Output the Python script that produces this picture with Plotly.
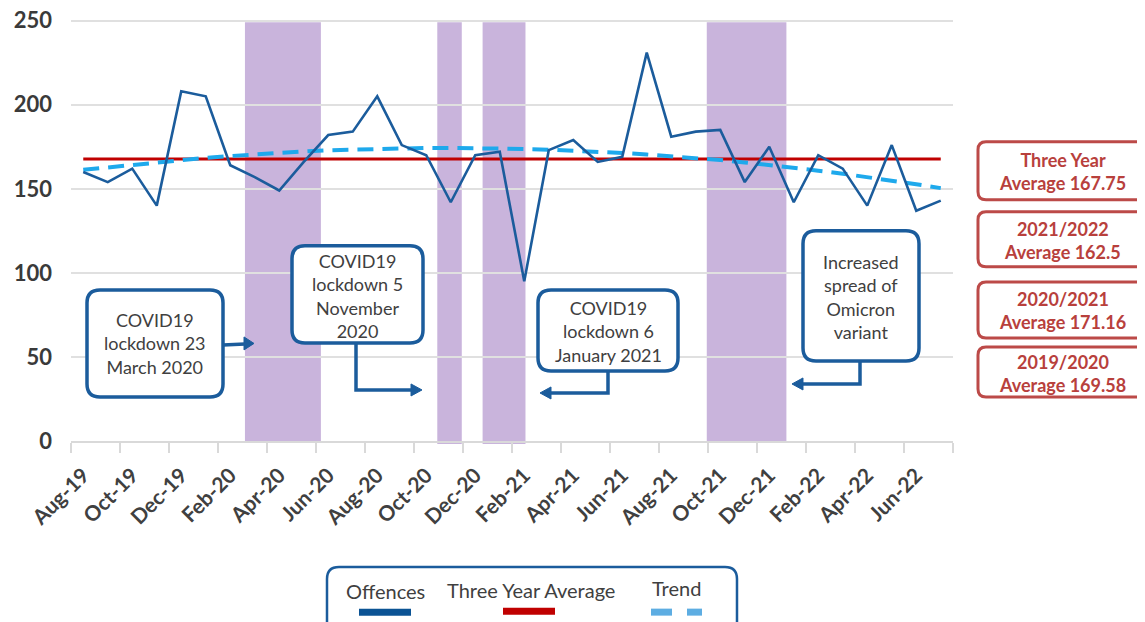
import plotly.graph_objects as go

# ---------------- data ----------------
months = ["Aug-19", "Sep-19", "Oct-19", "Nov-19", "Dec-19", "Jan-20", "Feb-20", "Mar-20",
          "Apr-20", "May-20", "Jun-20", "Jul-20", "Aug-20", "Sep-20", "Oct-20", "Nov-20",
          "Dec-20", "Jan-21", "Feb-21", "Mar-21", "Apr-21", "May-21", "Jun-21", "Jul-21",
          "Aug-21", "Sep-21", "Oct-21", "Nov-21", "Dec-21", "Jan-22", "Feb-22", "Mar-22",
          "Apr-22", "May-22", "Jun-22", "Jul-22"]
offences = [160, 154, 162, 140, 208, 205, 164, 157, 149, 166, 182, 184,
            205, 176, 170, 142, 170, 172, 95, 173, 179, 166, 169, 231,
            181, 184, 185, 154, 175, 142, 170, 162, 140, 176, 137, 143]
trend = [161.3, 162.8, 164.3, 165.8, 167.1, 168.4, 169.5, 170.5, 171.4, 172.2, 172.9, 173.4,
         173.8, 174.1, 174.3, 174.3, 174.2, 174.0, 173.7, 173.3, 172.8, 172.1, 171.3, 170.4,
         169.4, 168.3, 167.1, 165.7, 164.2, 162.6, 160.8, 159.0, 157.0, 154.9, 152.7, 150.4]
three_year_avg = 167.75
lockdown_start = [6.6, 14.45, 16.3, 25.45]
lockdown_end = [9.7, 15.45, 18.05, 28.7]
lockdown_below = [0, 1, 1, 0]
tick_idx = list(range(0, 36, 2))
tick_labels = [months[i] for i in tick_idx]
yticks = [0, 50, 100, 150, 200, 250]

callout_texts = ["COVID19<br>lockdown 23<br>March 2020",
                 "COVID19<br>lockdown 5<br>November<br>2020",
                 "COVID19<br>lockdown 6<br>January 2021",
                 "Increased<br>spread of<br>Omicron<br>variant"]
avg_texts = ["Three Year<br>Average 167.75", "2021/2022<br>Average 162.5",
             "2020/2021<br>Average 171.16", "2019/2020<br>Average 169.58"]

# ---------------- layout geometry (pixels, page coordinates) ----------------
WIDTH, HEIGHT = 1145, 622
OFF = 8  # page body margin offset
Y_TOP = 251
L, R, B = 71, 953, 441
T = B - (B - 21) * Y_TOP / 250.0
PW, PH = R - L, B - T

def px(x, y):
    return (x - L) / PW, (B - y) / PH

def rrect(x0, y0, x1, y1, r):
    def P(x, y):
        a, b = px(x, y)
        return f"{a:.5f},{b:.5f}"
    return (f"M {P(x0 + r, y0)} L {P(x1 - r, y0)} Q {P(x1, y0)} {P(x1, y0 + r)} "
            f"L {P(x1, y1 - r)} Q {P(x1, y1)} {P(x1 - r, y1)} "
            f"L {P(x0 + r, y1)} Q {P(x0, y1)} {P(x0, y1 - r)} "
            f"L {P(x0, y0 + r)} Q {P(x0, y0)} {P(x0 + r, y0)} Z")

def polyline(points):
    s = []
    for k, (x, y) in enumerate(points):
        a, b = px(x, y)
        s.append(("M " if k == 0 else "L ") + f"{a:.5f},{b:.5f}")
    return " ".join(s)

BLUE = "#1B5C9C"
RED = "#C00000"
TREND = "#1EA9EC"
PURPLE = "#C9B4DC"
BOXRED = "#BC4A48"
TXT = "#404040"
FONT = "Lato"

fig = go.Figure()
fig.add_trace(go.Scatter(x=list(range(len(months))), y=[three_year_avg] * len(months),
                         mode="lines", line=dict(color=RED, width=3), name="Three Year Average"))
fig.add_trace(go.Scatter(x=list(range(len(months))), y=trend, mode="lines",
                         line=dict(color=TREND, width=4, dash="16px,9px"), name="Trend"))
fig.add_trace(go.Scatter(x=list(range(len(months))), y=offences, mode="lines",
                         line=dict(color=BLUE, width=2.6), name="Offences"))

shapes = []
rect_top = px(0, 22.5)[1]
rect_low = px(0, 444)[1]
for s, e, below in zip(lockdown_start, lockdown_end, lockdown_below):
    shapes.append(dict(type="rect", xref="x", yref="paper", x0=s, x1=e,
                       y0=rect_low if below else 0, y1=rect_top,
                       fillcolor=PURPLE, line=dict(width=0), layer="between"))

# callout boxes
callout_boxes = [(87, 290, 223, 397), (292, 246, 423, 343), (538, 290, 678, 371), (803, 231, 919, 361)]
connectors = [[(223, 345), (245, 344)],
              [(356, 343), (356, 390), (412, 390)],
              [(608, 371), (608, 393), (550, 393)],
              [(860, 361), (860, 384), (802, 384)]]
heads = [[(244, 337), (254, 343.5), (244, 350)],
         [(411, 384), (422, 390), (411, 396)],
         [(551, 387), (540, 393), (551, 399)],
         [(803, 378), (792, 384), (803, 390)]]
for (x0, y0, x1, y1) in callout_boxes:
    shapes.append(dict(type="path", xref="paper", yref="paper", path=rrect(x0, y0, x1, y1, 13),
                       fillcolor="white", line=dict(color=BLUE, width=3.5), layer="above"))
for pts in connectors:
    shapes.append(dict(type="path", xref="paper", yref="paper", path=polyline(pts),
                       line=dict(color=BLUE, width=3.5), layer="above"))
for pts in heads:
    shapes.append(dict(type="path", xref="paper", yref="paper", path=polyline(pts) + " Z",
                       fillcolor=BLUE, line=dict(color=BLUE, width=1), layer="above"))

# right-side average boxes
avg_boxes = [(978, 142, 1165, 200), (978, 212, 1165, 267), (978, 282, 1165, 338), (978, 347, 1165, 397)]
for (x0, y0, x1, y1) in avg_boxes:
    shapes.append(dict(type="path", xref="paper", yref="paper", path=rrect(x0, y0, x1, y1, 8),
                       fillcolor="white", line=dict(color=BOXRED, width=3), layer="above"))

# legend box
shapes.append(dict(type="path", xref="paper", yref="paper", path=rrect(327, 567, 737, 640, 12),
                   fillcolor="white", line=dict(color=BLUE, width=2.5), layer="above"))
leg_samples = [((359, 612), (411, 612), "#0B5394"), ((503, 611), (555, 611), RED),
               ((651, 612), (672, 612), "#5DADE2"), ((687, 612), (702, 612), "#5DADE2")]
for (a, b, c) in leg_samples:
    shapes.append(dict(type="path", xref="paper", yref="paper", path=polyline([a, b]),
                       line=dict(color=c, width=7), layer="above"))

annotations = []
callout_centers = [(155, 344), (357, 296), (608, 332), (861, 297)]
for (cx, cy), t in zip(callout_centers, callout_texts):
    a, b = px(cx, cy)
    annotations.append(dict(xref="paper", yref="paper", x=a, y=b, text=t, showarrow=False,
                            xanchor="center", yanchor="middle",
                            font=dict(family=FONT, size=18, color=TXT)))
avg_centers = [(1062, 172), (1062, 241), (1062, 311), (1062, 374)]
for (cx, cy), t in zip(avg_centers, avg_texts):
    a, b = px(cx, cy)
    annotations.append(dict(xref="paper", yref="paper", x=a, y=b, text=t, showarrow=False,
                            xanchor="center", yanchor="middle",
                            font=dict(family=FONT, size=18, color="#B8403C", weight="bold")))
leg_texts = [("Offences", 385, 591), ("Three Year Average", 531, 590), ("Trend", 676, 588)]
for t, cx, cy in leg_texts:
    a, b = px(cx, cy)
    annotations.append(dict(xref="paper", yref="paper", x=a, y=b, text=t, showarrow=False,
                            xanchor="center", yanchor="middle",
                            font=dict(family=FONT, size=20, color=TXT)))

fig.update_layout(
    width=WIDTH, height=HEIGHT, autosize=False,
    margin=dict(l=L - OFF, r=WIDTH - R + OFF, t=T - OFF, b=HEIGHT - B + OFF, pad=0),
    paper_bgcolor="white", plot_bgcolor="white",
    showlegend=False,
    shapes=shapes, annotations=annotations,
    xaxis=dict(range=[-0.5, 35.5], tickmode="array", tickvals=tick_idx, ticktext=tick_labels,
               tickangle=-45, ticks="", showgrid=False, zeroline=False, automargin=False,
               showline=True, linecolor="#D9D9D9", linewidth=1.5,
               tickfont=dict(family=FONT, size=21, color=TXT, weight="bold"),
               ticklabelstandoff=12,
               minor=dict(ticks="outside", ticklen=10, tickcolor="#D9D9D9", tickwidth=1.5,
                          tickmode="linear", tick0=-0.5, dtick=2)),
    yaxis=dict(range=[0, Y_TOP], tickmode="array", tickvals=yticks, showgrid=True,
               gridcolor="#E0E0E0", gridwidth=1.5, zeroline=False, showline=False, ticks="",
               automargin=False,
               tickfont=dict(family=FONT, size=22, color="#3A3A3A", weight="bold"),
               ticklabelstandoff=18, ticklabeloverflow="allow"),
)

fig.write_html("out.html")
